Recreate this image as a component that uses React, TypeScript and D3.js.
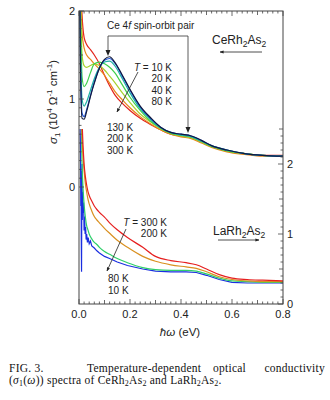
import React from 'react';
import * as d3 from 'd3';

// ---------- DATA ----------
const ceEnergy = [0.002, 0.006, 0.012, 0.02, 0.03, 0.045, 0.06, 0.08, 0.10, 0.12, 0.14, 0.17, 0.20, 0.24, 0.28, 0.32, 0.36, 0.40, 0.44, 0.48, 0.52, 0.58, 0.65, 0.72, 0.80];
const ce10K = [2.4, 1.3, 0.78, 0.77, 0.86, 1.03, 1.18, 1.35, 1.45, 1.48, 1.42, 1.27, 1.11, 0.92, 0.79, 0.68, 0.62, 0.60, 0.58, 0.53, 0.47, 0.42, 0.38, 0.36, 0.35];
const ce20K = [2.4, 1.4, 0.84, 0.80, 0.88, 1.04, 1.19, 1.35, 1.44, 1.46, 1.41, 1.26, 1.10, 0.91, 0.78, 0.68, 0.62, 0.60, 0.58, 0.53, 0.47, 0.42, 0.38, 0.36, 0.35];
const ce40K = [2.4, 1.6, 1.0, 0.92, 0.97, 1.10, 1.23, 1.36, 1.42, 1.43, 1.38, 1.23, 1.07, 0.89, 0.77, 0.67, 0.62, 0.59, 0.57, 0.52, 0.47, 0.42, 0.38, 0.36, 0.35];
const ce80K = [2.5, 1.9, 1.25, 1.14, 1.18, 1.30, 1.40, 1.42, 1.40, 1.36, 1.30, 1.16, 1.02, 0.87, 0.75, 0.67, 0.61, 0.59, 0.57, 0.52, 0.46, 0.41, 0.38, 0.36, 0.35];
const ce130K = [2.5, 2.1, 1.5, 1.38, 1.36, 1.38, 1.40, 1.38, 1.33, 1.26, 1.19, 1.07, 0.96, 0.83, 0.74, 0.66, 0.61, 0.58, 0.56, 0.51, 0.46, 0.41, 0.38, 0.36, 0.35];
const ce200K = [2.5, 2.3, 1.75, 1.58, 1.50, 1.45, 1.40, 1.34, 1.27, 1.18, 1.09, 0.99, 0.90, 0.80, 0.72, 0.65, 0.60, 0.57, 0.55, 0.50, 0.45, 0.40, 0.37, 0.35, 0.35];
const ce300K = [2.5, 2.4, 1.95, 1.70, 1.62, 1.56, 1.50, 1.40, 1.27, 1.15, 1.05, 0.95, 0.87, 0.78, 0.71, 0.65, 0.60, 0.58, 0.56, 0.51, 0.46, 0.41, 0.38, 0.36, 0.36];

const laEnergy = [0.003, 0.008, 0.012, 0.016, 0.02, 0.025, 0.03, 0.035, 0.04, 0.05, 0.06, 0.07, 0.08, 0.10, 0.12, 0.15, 0.19, 0.25, 0.30, 0.36, 0.42, 0.46, 0.50, 0.55, 0.60, 0.66, 0.72, 0.80];
const la300K = [3.2, 3.0, 2.6, 2.25, 2.0, 1.82, 1.70, 1.61, 1.55, 1.47, 1.40, 1.35, 1.31, 1.24, 1.16, 1.06, 0.95, 0.81, 0.68, 0.62, 0.59, 0.56, 0.50, 0.42, 0.37, 0.35, 0.34, 0.33];
const la200K = [3.2, 3.0, 2.4, 2.1, 1.9, 1.72, 1.60, 1.50, 1.43, 1.33, 1.25, 1.20, 1.16, 1.08, 1.01, 0.91, 0.81, 0.68, 0.61, 0.56, 0.53, 0.51, 0.46, 0.39, 0.35, 0.33, 0.32, 0.32];
const la80K = [3.0, 2.8, 2.0, 1.65, 1.42, 1.24, 1.12, 1.06, 1.00, 0.93, 0.88, 0.85, 0.81, 0.75, 0.71, 0.65, 0.59, 0.52, 0.49, 0.48, 0.48, 0.47, 0.43, 0.37, 0.33, 0.32, 0.31, 0.31];
const la10KEnergy = [0.002, 0.004, 0.006, 0.007, 0.008, 0.009, 0.010, 0.011, 0.012, 0.013, 0.014, 0.016, 0.018, 0.020, 0.022, 0.024, 0.026, 0.028, 0.030, 0.033, 0.036, 0.040, 0.045, 0.05, 0.06, 0.07, 0.08, 0.10, 0.12, 0.15, 0.19, 0.25, 0.30, 0.36, 0.42, 0.46, 0.50, 0.55, 0.60, 0.66, 0.72, 0.80];
const la10K = [3.0, 2.6, 2.2, 1.4, 1.9, 0.9, 0.46, 1.5, 2.0, 1.2, 1.6, 1.3, 1.45, 1.05, 1.25, 1.0, 1.1, 0.92, 1.0, 0.88, 0.95, 0.86, 0.90, 0.83, 0.80, 0.76, 0.73, 0.68, 0.65, 0.60, 0.55, 0.50, 0.47, 0.46, 0.46, 0.45, 0.41, 0.35, 0.31, 0.30, 0.30, 0.30];

const ceLabelsUpper = ['10 K', '20 K', '40 K', '80 K'];
const ceLabelsLower = ['130 K', '200 K', '300 K'];
const laLabelsUpper = ['300 K', '200 K'];
const laLabelsLower = ['80 K', '10 K'];
const xTickLabels = ['0.0', '0.2', '0.4', '0.6', '0.8'];
const leftTickLabels = ['0', '1', '2'];
const rightTickLabels = ['0', '1', '2'];

const ceSeries = [
  { t: '300 K', color: '#e3241c', values: ce300K },
  { t: '200 K', color: '#e8861a', values: ce200K },
  { t: '130 K', color: '#a6d22c', values: ce130K },
  { t: '80 K', color: '#3fd04a', values: ce80K },
  { t: '40 K', color: '#1fb3a4', values: ce40K },
  { t: '20 K', color: '#1f55d8', values: ce20K },
  { t: '10 K', color: '#121a3c', values: ce10K },
];
const laSeries = [
  { t: '10 K', color: '#1a2ee0', energy: la10KEnergy, values: la10K, linear: true },
  { t: '80 K', color: '#2fcf6a', energy: laEnergy, values: la80K, linear: false },
  { t: '200 K', color: '#d99020', energy: laEnergy, values: la200K, linear: false },
  { t: '300 K', color: '#e62020', energy: laEnergy, values: la300K, linear: false },
];

const SANS = 'Liberation Sans, Arial, sans-serif';
const SERIF = 'Liberation Serif, Times New Roman, serif';

export default function App() {
  const x = d3.scaleLinear().domain([0, 0.8]).range([79, 283]);
  const yCe = d3.scaleLinear().domain([0, 2]).range([187, 11]);
  const yLa = d3.scaleLinear().domain([0, 2.5]).range([304, 129]);
  const [x0, x1] = x.range();
  const top = 11, bottom = 304;

  const ceLine = (vals: number[]) =>
    d3.line<number>().x((_, i) => x(ceEnergy[i])).y((d) => yCe(d)).curve(d3.curveMonotoneX)(vals) || '';
  const laLine = (en: number[], vals: number[], linear: boolean) =>
    d3.line<number>().x((_, i) => x(en[i])).y((d) => yLa(d)).curve(linear ? d3.curveLinear : d3.curveMonotoneX)(vals) || '';

  const xMinor = d3.range(0, 0.8001, 0.02);
  const ceTicks = d3.range(0, 2.0001, 0.1);
  const laTicks = d3.range(0, 2.5001, 0.1);
  const isMult = (v: number, m: number) => Math.abs(v / m - Math.round(v / m)) < 1e-6;

  const axisColor = '#444';
  const textColor = '#222';

  return (
    <svg width={330} height={400} style={{ position: 'absolute', left: 0, top: 0, background: '#fff' }}>
      <defs>
        <clipPath id="clipCe"><rect x={x0} y={top} width={x1 - x0} height={bottom - top} /></clipPath>
        <clipPath id="clipLa"><rect x={x0} y={yLa(2.5)} width={x1 - x0} height={bottom - yLa(2.5)} /></clipPath>
        <marker id="ah" viewBox="0 0 10 10" refX="9" refY="5" markerWidth="5" markerHeight="5" orient="auto">
          <path d="M0,1 L10,5 L0,9 z" fill="#222" />
        </marker>
      </defs>

      {/* curves */}
      <g clipPath="url(#clipLa)" fill="none" strokeWidth={1.2}>
        {laSeries.map((s) => (
          <path key={s.t} d={laLine(s.energy, s.values, s.linear)} stroke={s.color} />
        ))}
      </g>
      <g clipPath="url(#clipCe)" fill="none" strokeWidth={1.2}>
        {ceSeries.map((s) => (
          <path key={s.t} d={ceLine(s.values)} stroke={s.color} />
        ))}
      </g>

      {/* frame */}
      <rect x={x0} y={top} width={x1 - x0} height={bottom - top} fill="none" stroke={axisColor} strokeWidth={1} />

      {/* x ticks bottom & top */}
      {xMinor.map((v, i) => {
        const len = isMult(v, 0.2) ? 5 : isMult(v, 0.1) ? 4 : 2.5;
        return (
          <g key={'xt' + i} stroke={axisColor} strokeWidth={0.8}>
            <line x1={x(v)} x2={x(v)} y1={bottom} y2={bottom - len} />
            <line x1={x(v)} x2={x(v)} y1={top} y2={top + len} />
          </g>
        );
      })}
      {xTickLabels.map((t, i) => (
        <text key={'xl' + i} x={x(+t)} y={318} fontSize={11} fontFamily={SANS} fill={textColor} textAnchor="middle">{t}</text>
      ))}

      {/* left (Ce) ticks */}
      {ceTicks.map((v, i) => {
        const len = isMult(v, 1) ? 5 : isMult(v, 0.5) ? 4 : 2.5;
        return <line key={'lt' + i} x1={x0} x2={x0 + len} y1={yCe(v)} y2={yCe(v)} stroke={axisColor} strokeWidth={0.8} />;
      })}
      {leftTickLabels.map((t, i) => (
        <text key={'ll' + i} x={75} y={yCe(+t) + 4} fontSize={11} fontFamily={SANS} fill={textColor} textAnchor="end">{t}</text>
      ))}

      {/* right (La) ticks */}
      {laTicks.map((v, i) => {
        const len = isMult(v, 1) ? 5 : isMult(v, 0.5) ? 4 : 2.5;
        return <line key={'rt' + i} x1={x1} x2={x1 - len} y1={yLa(v)} y2={yLa(v)} stroke={axisColor} strokeWidth={0.8} />;
      })}
      {rightTickLabels.map((t, i) => (
        <text key={'rl' + i} x={287} y={yLa(+t) + 4} fontSize={11} fontFamily={SANS} fill={textColor} textAnchor="start">{t}</text>
      ))}

      {/* axis titles */}
      <text transform="translate(57,102) rotate(-90)" fontSize={11.5} fontFamily={SANS} fill={textColor} textAnchor="middle">
        <tspan fontStyle="italic">σ</tspan>
        <tspan fontSize={8} dy={3}>1</tspan>
        <tspan dy={-3}> (10</tspan>
        <tspan fontSize={8} dy={-5}>4</tspan>
        <tspan dy={5}> Ω</tspan>
        <tspan fontSize={8} dy={-5}>-1</tspan>
        <tspan dy={5}> cm</tspan>
        <tspan fontSize={8} dy={-5}>-1</tspan>
        <tspan dy={5}>)</tspan>
      </text>
      <text x={180} y={336} fontSize={11.5} fontFamily={SANS} fill={textColor} textAnchor="middle">
        <tspan fontStyle="italic">ħω</tspan> (eV)
      </text>

      {/* Ce annotations */}
      <text x={107} y={29} fontSize={10} fontFamily={SANS} fill={textColor}>
        Ce 4<tspan fontStyle="italic">f</tspan> spin-orbit pair
      </text>
      <g stroke="#333" strokeWidth={0.8} fill="none">
        <polyline points="108,52 108,36 188,36 188,129" />
      </g>
      <path d="M105.5,50 L110.5,50 L108,56 z" fill="#222" />
      <path d="M185.5,127 L190.5,127 L188,133 z" fill="#222" />

      <text x={212} y={44} fontSize={12} fontFamily={SANS} fill={textColor}>
        CeRh<tspan fontSize={8.5} dy={3}>2</tspan><tspan dy={-3}>As</tspan><tspan fontSize={8.5} dy={3}>2</tspan>
      </text>
      <line x1={262} y1={52} x2={220} y2={52} stroke="#222" strokeWidth={0.8} markerEnd="url(#ah)" />

      {ceLabelsUpper.map((t, i) => (
        <text key={'cu' + i} x={172} y={71 + i * 11.3} fontSize={10} fontFamily={SANS} fill={textColor} textAnchor="end">
          {i === 0 ? (<><tspan fontStyle="italic">T</tspan> = {t}</>) : t}
        </text>
      ))}
      <line x1={138} y1={72} x2={117} y2={112} stroke="#222" strokeWidth={0.8} markerEnd="url(#ah)" />
      {ceLabelsLower.map((t, i) => (
        <text key={'cl' + i} x={107} y={131 + i * 11.3} fontSize={10} fontFamily={SANS} fill={textColor}>{t}</text>
      ))}

      {/* La annotations */}
      {laLabelsUpper.map((t, i) => (
        <text key={'lu' + i} x={167} y={226 + i * 11.3} fontSize={10} fontFamily={SANS} fill={textColor} textAnchor="end">
          {i === 0 ? (<><tspan fontStyle="italic">T</tspan> = {t}</>) : t}
        </text>
      ))}
      <line x1={126} y1={229} x2={107} y2={271} stroke="#222" strokeWidth={0.8} markerEnd="url(#ah)" />
      {laLabelsLower.map((t, i) => (
        <text key={'ll2' + i} x={108} y={282 + i * 12} fontSize={10} fontFamily={SANS} fill={textColor}>{t}</text>
      ))}
      <text x={213} y={235} fontSize={12} fontFamily={SANS} fill={textColor}>
        LaRh<tspan fontSize={8.5} dy={3}>2</tspan><tspan dy={-3}>As</tspan><tspan fontSize={8.5} dy={3}>2</tspan>
      </text>
      <line x1={218} y1={240} x2={259} y2={240} stroke="#222" strokeWidth={0.8} markerEnd="url(#ah)" />

      {/* caption */}
      <g fontFamily={SERIF} fontSize={11.5} fill="#111" letterSpacing={0.25}>
        <text x={9} y={372}>FIG. 3.</text>
        <text x={87} y={372}>Temperature-dependent</text>
        <text x={213} y={372}>optical</text>
        <text x={325} y={372} textAnchor="end">conductivity</text>
        <text x={9} y={384}>
          (<tspan fontStyle="italic">σ</tspan><tspan fontSize={8} dy={2}>1</tspan><tspan dy={-2}>(</tspan><tspan fontStyle="italic">ω</tspan>)) spectra of CeRh<tspan fontSize={8} dy={2}>2</tspan><tspan dy={-2}>As</tspan><tspan fontSize={8} dy={2}>2</tspan><tspan dy={-2}> and LaRh</tspan><tspan fontSize={8} dy={2}>2</tspan><tspan dy={-2}>As</tspan><tspan fontSize={8} dy={2}>2</tspan><tspan dy={-2}>.</tspan>
        </text>
      </g>
    </svg>
  );
}
